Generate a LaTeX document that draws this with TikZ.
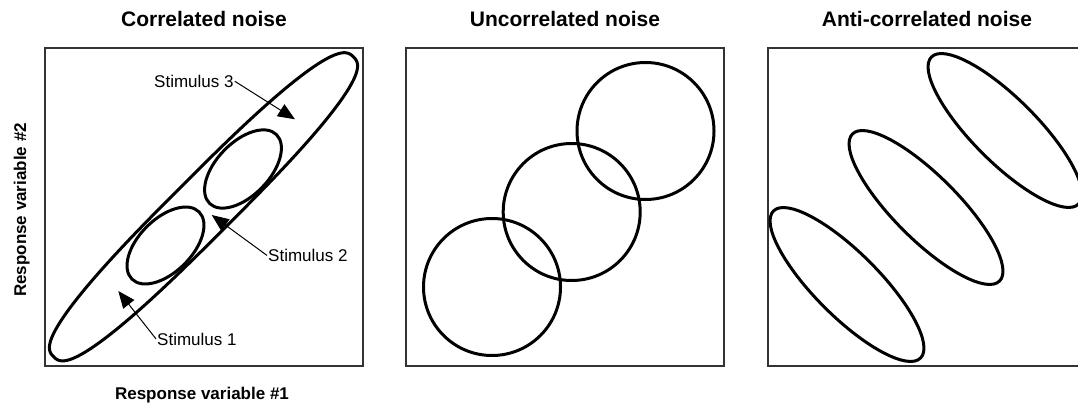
\documentclass[tikz,border=0pt]{standalone}
\usepackage{fontspec}
\setmainfont{Liberation Sans}
\usetikzlibrary{arrows.meta}
\begin{document}
\begin{tikzpicture}[x=1pt,y=-1pt,
  panelbox/.style={draw=black!80,line width=1.5pt},
  curve/.style={draw=black,line width=3pt},
  titletext/.style={font=\bfseries\fontsize{21}{25}\selectfont,anchor=base,inner sep=0pt},
  axistext/.style={font=\bfseries\fontsize{17}{20}\selectfont,anchor=base,inner sep=0pt},
  stimtext/.style={font=\fontsize{17}{20}\selectfont,inner sep=1pt},
  pointer/.style={draw=black,line width=1pt,-{Triangle[length=17pt,width=14pt]}}]
\useasboundingbox (0,0) rectangle (1078,404);
\begin{scope}
\clip (0,0) rectangle (1078,404);
% titles
\node[titletext] (t1) at (204,26.7) {Correlated noise};
\node[titletext] (t2) at (565,26.5) {Uncorrelated noise};
\node[titletext] (t3) at (927,26.7) {Anti-correlated noise};
% axis labels
\node[axistext] (xl) at (202,399) {Response variable \#1};
\node[axistext,rotate=90] (yl) at (26,210) {Response variable \#2};
% boxes
\draw[panelbox] (45,48) rectangle (363,366);
\draw[panelbox] (406,48) rectangle (724,366);
\draw[panelbox] (768,48) rectangle (1086,366);
% panel 1: long rounded shape (superellipse)
\begin{scope}[shift={(203.5,206.8)},rotate=45]
\draw[curve] plot[smooth cycle,domain=0.5:359.5,samples=200,variable=\t]
  ({212*cos(\t)*pow(abs(cos(\t)),-0.2593)},{30*sin(\t)*pow(abs(sin(\t)),-0.2593)});
\end{scope}
\draw[curve,rotate around={45:(165.5,245.5)}] (165.5,245.5) ellipse [x radius=47.5,y radius=26.5];
\draw[curve,rotate around={46:(243,169)}] (243,169) ellipse [x radius=48,y radius=26.5];
% panel 2
\draw[curve] (492,287) circle [radius=68.5];
\draw[curve] (571.7,212) circle [radius=68.5];
\draw[curve] (645.5,131) circle [radius=68.5];
% panel 3
\draw[curve,rotate around={-45:(847,284.5)}] (847,284.5) ellipse [x radius=104,y radius=32];
\draw[curve,rotate around={-45:(926,207.5)}] (926,207.5) ellipse [x radius=104,y radius=32];
\draw[curve,rotate around={-45:(1005,130.5)}] (1005,130.5) ellipse [x radius=104,y radius=32];
% stimulus labels and arrows
\node[stimtext,anchor=base west] (s3) at (153,87.3) {Stimulus 3};
\node[stimtext,anchor=base west] (s2) at (267,261.5) {Stimulus 2};
\node[stimtext,anchor=base west] (s1) at (156,345) {Stimulus 1};
\coordinate (p3) at (295,119.3);
\coordinate (p2) at (211.7,215);
\coordinate (p1) at (118.3,291);
\draw[pointer] (s3.east) -- (p3);
\draw[pointer] (s2.west) -- (p2);
\draw[pointer] (s1.west) -- (p1);
\end{scope}
\end{tikzpicture}
\end{document}
